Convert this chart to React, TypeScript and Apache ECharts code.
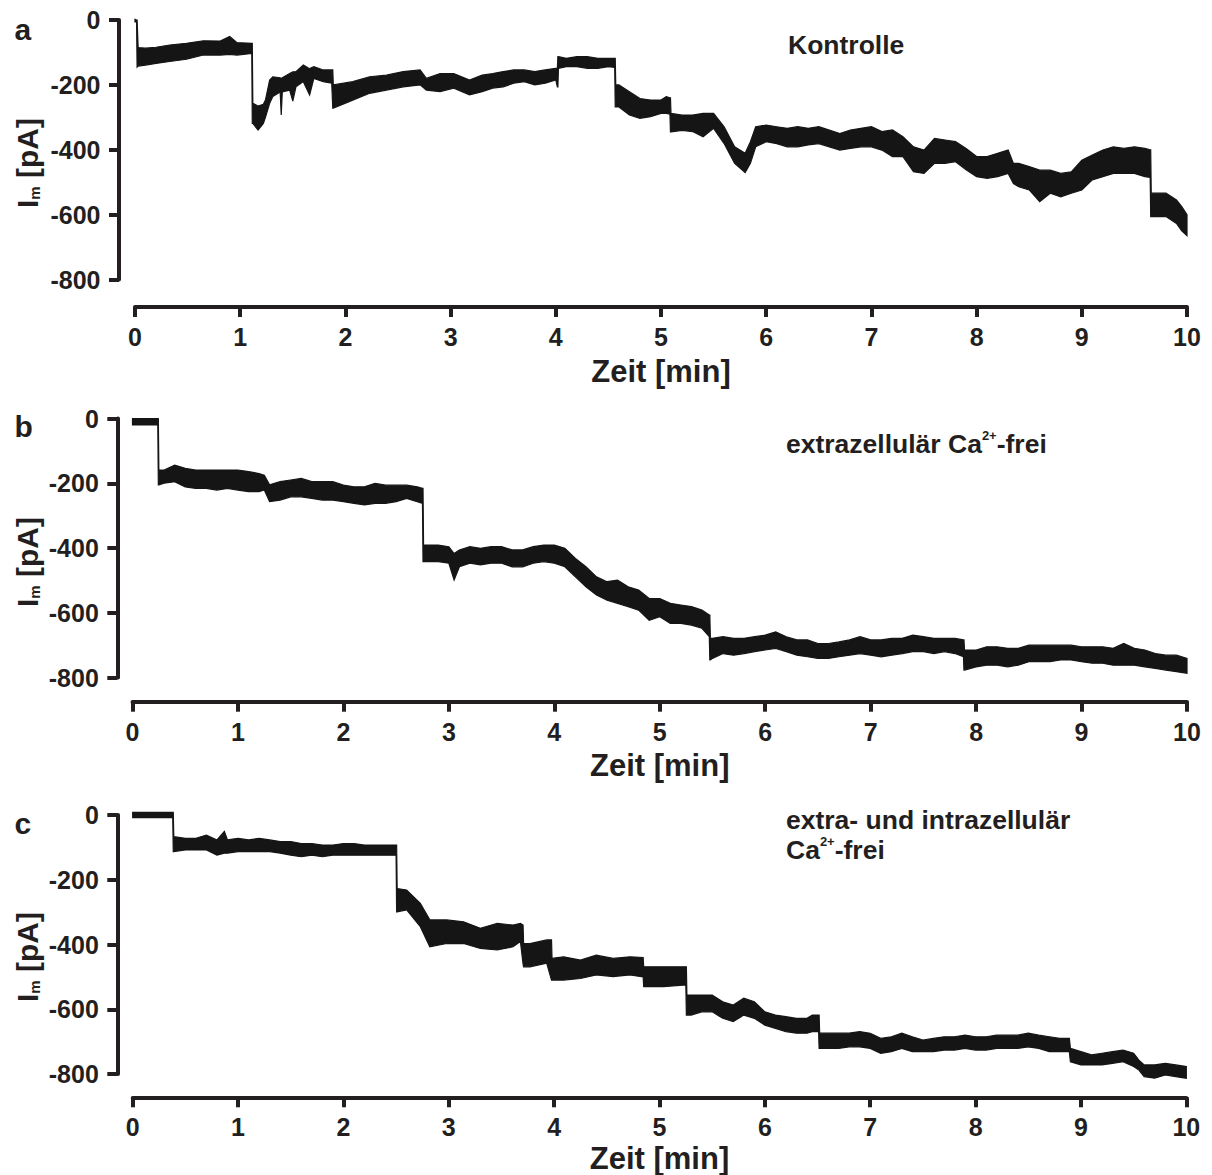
import React, { useEffect, useRef } from "react";
import * as echarts from "echarts";

// ---- data (time [min], upper edge [pA], lower edge [pA]) ----
const traceA: [number, number, number][] = [
  [0, 2, -6], [0.015, 0, -6], [0.02, 0, -145], [0.03, -85, -142], [0.1, -87, -139], [0.2, -84, -134],
  [0.33, -77, -128], [0.49, -72, -121], [0.65, -64, -108], [0.81, -65, -108], [0.9, -51, -106], [0.97, -70, -108],
  [1.11, -72, -103], [1.115, -72, -319], [1.12, -257, -319], [1.17, -265, -339], [1.22, -260, -319], [1.24, -247, -300],
  [1.28, -185, -257], [1.31, -175, -236], [1.38, -178, -222], [1.39, -180, -293], [1.4, -178, -222], [1.47, -165, -216],
  [1.5, -160, -250], [1.53, -159, -206], [1.6, -139, -190], [1.66, -150, -231], [1.7, -144, -180], [1.79, -154, -190],
  [1.87, -154, -195], [1.88, -154, -272], [1.885, -200, -272], [2.07, -190, -247], [2.23, -175, -226], [2.39, -170, -216],
  [2.55, -159, -206], [2.71, -154, -200], [2.77, -180, -216], [2.9, -165, -221], [3.03, -165, -210], [3.18, -185, -231],
  [3.3, -170, -221], [3.4, -165, -210], [3.5, -159, -206], [3.6, -154, -195], [3.7, -154, -190],
  [3.8, -159, -200], [3.9, -154, -195], [4.0, -149, -185], [4.015, -149, -206], [4.02, -113, -206], [4.025, -113, -149],
  [4.1, -118, -144], [4.2, -113, -144], [4.3, -113, -149], [4.4, -118, -149], [4.5, -118, -144], [4.56, -118, -146],
  [4.565, -118, -268], [4.57, -200, -268], [4.6, -200, -268], [4.7, -221, -293], [4.8, -242, -303], [4.9, -247, -298],
  [5.0, -247, -288], [5.05, -236, -288], [5.085, -240, -290], [5.09, -240, -345], [5.095, -288, -345], [5.2, -293, -340],
  [5.3, -293, -344], [5.4, -288, -360], [5.5, -288, -334], [5.6, -329, -381], [5.7, -391, -442], [5.8, -411, -470],
  [5.85, -375, -442], [5.9, -329, -391], [6.0, -324, -375], [6.1, -329, -381], [6.2, -334, -391], [6.3, -329, -391],
  [6.4, -334, -385], [6.5, -329, -381], [6.6, -339, -391], [6.7, -350, -401], [6.8, -339, -396], [6.9, -334, -391],
  [7.0, -329, -391], [7.1, -344, -401], [7.2, -339, -421], [7.3, -360, -421], [7.4, -391, -468], [7.5, -401, -473],
  [7.6, -365, -442], [7.7, -370, -442], [7.8, -375, -437], [7.9, -396, -462], [8.0, -421, -483], [8.1, -421, -488],
  [8.2, -411, -483], [8.3, -401, -473], [8.35, -442, -504], [8.4, -442, -514], [8.5, -452, -524], [8.6, -463, -560],
  [8.7, -463, -534], [8.8, -473, -545], [8.9, -468, -534], [9.0, -432, -524], [9.1, -416, -493], [9.2, -401, -483],
  [9.3, -391, -473], [9.4, -396, -473], [9.5, -391, -473], [9.6, -396, -483], [9.65, -400, -485], [9.655, -400, -606],
  [9.66, -534, -606], [9.7, -534, -606], [9.8, -534, -606], [9.9, -555, -627], [9.95, -575, -650], [10.0, -600, -665],
];

const traceB: [number, number, number][] = [
  [0, 0, -20], [0.24, 0, -20], [0.245, 0, -205], [0.25, -159, -205], [0.3, -159, -200], [0.4, -144, -195],
  [0.5, -154, -211], [0.6, -159, -216], [0.7, -159, -216], [0.8, -159, -221], [0.9, -159, -216], [1.0, -159, -221],
  [1.1, -164, -226], [1.2, -170, -226], [1.25, -175, -221], [1.3, -205, -257], [1.4, -195, -252], [1.5, -190, -242],
  [1.6, -185, -242], [1.7, -195, -247], [1.8, -195, -252], [1.9, -195, -252], [2.0, -206, -257], [2.1, -211, -262],
  [2.2, -211, -267], [2.3, -200, -262], [2.4, -206, -262], [2.5, -206, -257], [2.6, -206, -247], [2.7, -211, -257],
  [2.75, -216, -262], [2.755, -216, -442], [2.76, -391, -442], [2.8, -391, -442], [2.9, -391, -442], [3.0, -396, -447],
  [3.05, -417, -499], [3.1, -406, -458], [3.2, -396, -447], [3.3, -401, -452], [3.4, -396, -447], [3.5, -396, -447],
  [3.6, -406, -458], [3.7, -406, -458], [3.8, -396, -447], [3.9, -391, -442], [4.0, -391, -447], [4.1, -401, -458],
  [4.2, -432, -489], [4.3, -458, -520], [4.4, -489, -545], [4.5, -504, -561], [4.6, -499, -571], [4.7, -520, -581],
  [4.8, -530, -592], [4.9, -556, -623], [5.0, -556, -612], [5.1, -571, -633], [5.2, -576, -633], [5.3, -581, -638],
  [5.4, -592, -648], [5.47, -607, -674], [5.475, -607, -746], [5.48, -679, -746], [5.5, -679, -741], [5.6, -674, -726],
  [5.7, -679, -731], [5.8, -679, -726], [5.9, -674, -720], [6.0, -669, -715], [6.1, -659, -710], [6.2, -674, -720],
  [6.3, -684, -731], [6.4, -684, -736], [6.5, -695, -741], [6.6, -695, -741], [6.7, -690, -736], [6.8, -684, -731],
  [6.9, -674, -726], [7.0, -684, -731], [7.1, -684, -736], [7.2, -679, -731], [7.3, -679, -726], [7.4, -669, -720],
  [7.5, -674, -720], [7.6, -679, -726], [7.7, -679, -720], [7.8, -679, -726], [7.88, -684, -736], [7.885, -684, -777],
  [7.89, -715, -777], [8.0, -715, -767], [8.1, -705, -762], [8.2, -705, -762], [8.3, -710, -767], [8.4, -710, -762],
  [8.5, -700, -751], [8.6, -700, -751], [8.7, -700, -751], [8.8, -700, -746], [8.9, -700, -746], [9.0, -705, -751],
  [9.1, -705, -756], [9.2, -705, -756], [9.3, -710, -762], [9.4, -695, -762], [9.5, -710, -762], [9.6, -715, -767],
  [9.7, -726, -772], [9.8, -731, -777], [9.9, -731, -782], [10.0, -741, -787],
];

const traceC: [number, number, number][] = [
  [0, 8, -8], [0.38, 8, -8], [0.385, 8, -113], [0.39, -67, -113], [0.5, -72, -108], [0.6, -72, -108],
  [0.7, -62, -108], [0.8, -77, -124], [0.87, -51, -118], [0.9, -77, -118], [1.0, -72, -113], [1.1, -77, -113],
  [1.2, -72, -113], [1.3, -77, -113], [1.4, -82, -118], [1.5, -82, -124], [1.6, -88, -129], [1.7, -88, -124],
  [1.8, -93, -129], [1.9, -93, -124], [2.0, -88, -124], [2.1, -88, -124], [2.2, -93, -124], [2.3, -93, -124],
  [2.4, -93, -124], [2.5, -93, -124], [2.505, -93, -299], [2.51, -227, -299], [2.6, -232, -293], [2.73, -273, -345],
  [2.82, -324, -407], [2.98, -324, -397], [3.14, -330, -397], [3.3, -350, -412], [3.46, -335, -417], [3.61, -340, -407],
  [3.68, -335, -391], [3.705, -340, -460], [3.71, -397, -469], [3.77, -397, -469], [3.93, -386, -458], [3.975, -386, -510],
  [3.98, -443, -510], [4.09, -438, -510], [4.25, -448, -505], [4.4, -433, -494], [4.56, -443, -499], [4.72, -438, -494],
  [4.845, -440, -500], [4.85, -469, -530], [5.04, -469, -530], [5.25, -469, -525], [5.255, -469, -618], [5.26, -556, -618],
  [5.3, -556, -618], [5.4, -556, -608], [5.5, -556, -608], [5.6, -577, -628],
  [5.7, -587, -638], [5.8, -566, -618], [5.9, -577, -628], [6.0, -608, -649], [6.1, -618, -659], [6.2, -623, -669],
  [6.3, -628, -674], [6.4, -628, -674], [6.45, -618, -669], [6.51, -618, -669], [6.515, -618, -721], [6.52, -674, -721],
  [6.6, -674, -721], [6.7, -674, -721], [6.8, -674, -716], [6.9, -669, -716], [7.0, -674, -721], [7.1, -690, -736],
  [7.2, -685, -731], [7.3, -674, -721], [7.4, -685, -731], [7.5, -695, -731], [7.6, -690, -731], [7.7, -685, -726],
  [7.8, -685, -726], [7.9, -680, -721], [8.0, -685, -726], [8.1, -685, -726], [8.2, -680, -721], [8.3, -680, -721],
  [8.4, -680, -721], [8.5, -674, -716], [8.6, -680, -721], [8.7, -685, -731], [8.8, -690, -731], [8.89, -690, -731],
  [8.9, -721, -762], [9.0, -731, -772], [9.1, -741, -772], [9.2, -736, -772], [9.3, -731, -767], [9.4, -726, -762],
  [9.5, -736, -777], [9.55, -757, -788], [9.6, -772, -808], [9.7, -772, -813], [9.8, -767, -803], [9.9, -772, -808],
  [10.0, -777, -813],
];

const panelLetters = ["a", "b", "c"];
const xTitle = "Zeit [min]";
const xMin = 0, xMax = 10, xStep = 1;
const yMin = -800, yMax = 0, yStep = 200;

const FONT = '"Liberation Sans", Arial, Helvetica, sans-serif';
const AXIS = "#231f20";
const TRACE = "#151515";

const GRIDS = [
  { left: 135, top: 20, width: 1052, height: 259.5, xOff: 27.5, yOff: 16, letterY: 29.6, titleY: 163, nameGap: 49 },
  { left: 132.5, top: 418.5, width: 1054.5, height: 259, xOff: 24.2, yOff: 15.2, letterY: 426.3, titleY: 562, nameGap: 48 },
  { left: 132.7, top: 815, width: 1053.6, height: 259, xOff: 23.3, yOff: 15.4, letterY: 823, titleY: 957, nameGap: 46 },
];

const traces = [traceA, traceB, traceC];

function bandSeries(trace: [number, number, number][], gi: number) {
  return {
    type: "custom",
    xAxisIndex: gi,
    yAxisIndex: gi,
    data: trace.map((r) => [r[0], r[1], r[2]]),
    encode: { x: 0, y: [1, 2] },
    clip: false,
    silent: true,
    renderItem: (params: any, api: any) => {
      if (params.dataIndex !== 0) return null;
      const top = trace.map((r) => api.coord([r[0], r[1]]));
      const bot = trace.map((r) => api.coord([r[0], r[2]])).reverse();
      return {
        type: "polygon",
        shape: { points: top.concat(bot) },
        style: { fill: TRACE, stroke: TRACE, lineWidth: 1.2, lineJoin: "miter" },
      };
    },
  };
}

export default function App() {
  const ref = useRef<HTMLDivElement>(null);
  useEffect(() => {
    if (!ref.current) return;
    const chart = echarts.init(ref.current, undefined, { renderer: "svg" });
    const lineStyle = { color: AXIS, width: 4 };
    const labelStyle = { fontFamily: FONT, fontWeight: "bold", fontSize: 25, color: AXIS };
    const textBase = { fontFamily: FONT, fontWeight: "bold", fill: AXIS };

    const graphic: any[] = [];
    GRIDS.forEach((g, i) => {
      graphic.push({
        type: "text", x: 14.5, y: g.letterY, silent: true,
        style: { ...textBase, text: panelLetters[i], fontSize: 30, align: "left", verticalAlign: "middle" },
      });
      graphic.push({
        type: "text", x: 27, y: g.titleY, rotation: Math.PI / 2, silent: true,
        style: {
          ...textBase,
          text: "{n|I}{s|m}{n| [pA]}",
          align: "center", verticalAlign: "middle",
          rich: {
            n: { fontFamily: FONT, fontWeight: "bold", fontSize: 30, lineHeight: 30, fill: AXIS, color: AXIS },
            s: { fontFamily: FONT, fontWeight: "bold", fontSize: 15, lineHeight: 15, verticalAlign: "bottom", fill: AXIS, color: AXIS },
          },
        },
      });
    });
    const rich = {
      n: { fontFamily: FONT, fontWeight: "bold", fontSize: 26.5, lineHeight: 30, fill: AXIS, color: AXIS },
      s: { fontFamily: FONT, fontWeight: "bold", fontSize: 13, lineHeight: 14, verticalAlign: "top", fill: AXIS, color: AXIS },
    };
    graphic.push({
      type: "text", x: 788, y: 44.6, silent: true,
      style: { ...textBase, text: "Kontrolle", fontSize: 26.5, align: "left", verticalAlign: "middle" },
    });
    graphic.push({
      type: "text", x: 786, y: 444, silent: true,
      style: { ...textBase, text: "{n|extrazellulär Ca}{s|2+}{n|-frei}", rich, align: "left", verticalAlign: "middle" },
    });
    graphic.push({
      type: "text", x: 786, y: 819.6, silent: true,
      style: { ...textBase, text: "extra- und intrazellulär", fontSize: 26.5, align: "left", verticalAlign: "middle" },
    });
    graphic.push({
      type: "text", x: 786, y: 849.6, silent: true,
      style: { ...textBase, text: "{n|Ca}{s|2+}{n|-frei}", rich, align: "left", verticalAlign: "middle" },
    });

    chart.setOption({
      animation: false,
      backgroundColor: "#ffffff",
      grid: GRIDS.map((g) => ({
        left: g.left, top: g.top, width: g.width, height: g.height,
        containLabel: false, outerBoundsMode: "none",
      })),
      xAxis: GRIDS.map((g, i) => ({
        type: "value", gridIndex: i, min: xMin, max: xMax, interval: xStep,
        position: "bottom", offset: g.xOff,
        axisLine: { show: true, onZero: false, lineStyle },
        axisTick: { show: true, length: 10, lineStyle },
        axisLabel: { ...labelStyle, margin: 17.5, showMinLabel: true, showMaxLabel: true },
        splitLine: { show: false },
        name: xTitle, nameLocation: "middle", nameGap: g.nameGap,
        nameTextStyle: { fontFamily: FONT, fontWeight: "bold", fontSize: 31, color: AXIS },
      })),
      yAxis: GRIDS.map((g, i) => ({
        type: "value", gridIndex: i, min: yMin, max: yMax, interval: yStep,
        position: "left", offset: g.yOff,
        axisLine: { show: true, onZero: false, lineStyle },
        axisTick: { show: true, length: 10, lineStyle },
        axisLabel: { ...labelStyle, margin: 18.5, showMinLabel: true, showMaxLabel: true },
        splitLine: { show: false },
      })),
      series: traces.map((t, i) => bandSeries(t, i)),
      graphic,
    });
    return () => chart.dispose();
  }, []);
  return (
    <div
      ref={ref}
      style={{ position: "absolute", left: 0, top: 0, width: 1212, height: 1175, background: "#fff" }}
    />
  );
}
